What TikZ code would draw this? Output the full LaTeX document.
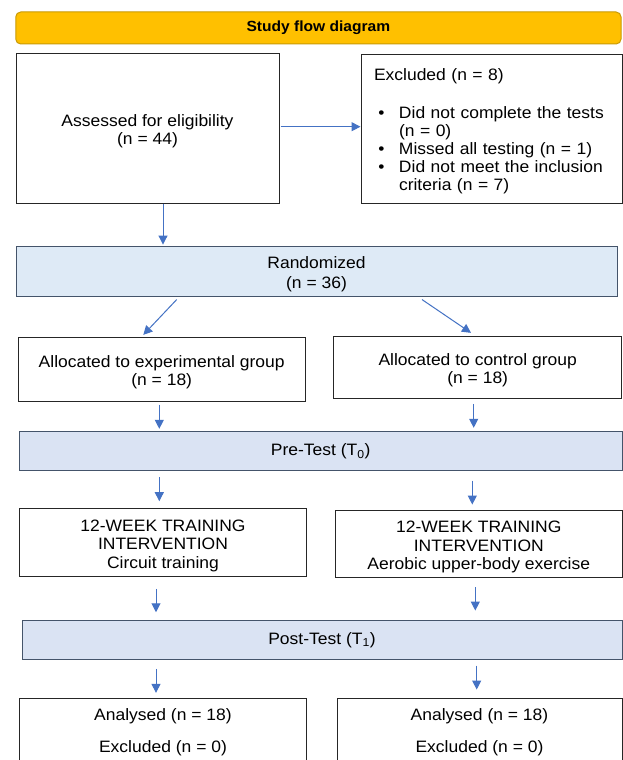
\documentclass[tikz,border=0pt]{standalone}
\usepackage{fontspec}
\setmainfont{Liberation Sans}[FakeStretch=1.06]
\usetikzlibrary{arrows.meta,calc}
\definecolor{titlefill}{HTML}{FFC000}
\definecolor{titledraw}{HTML}{C99A06}
\definecolor{randfill}{HTML}{DEEAF6}
\definecolor{testfill}{HTML}{DAE3F3}
\definecolor{bluedraw}{HTML}{44546A}
\definecolor{arrowblue}{HTML}{4472C4}
\newcommand{\tstrutA}{\rule{0pt}{18pt}}
\tikzset{
  box/.style={draw=black!85, line width=1pt, fill=white, inner sep=0pt, align=center,
    font=\fontsize{16.5}{18.5}\selectfont},
  bluebox/.style={box, draw=bluedraw},
  titlebox/.style={draw=titledraw, line width=1pt, fill=titlefill, rounded corners=5pt,
    inner sep=0pt, font=\fontsize{14.7}{16}\selectfont\bfseries},
  plaintext/.style={inner sep=0pt, align=center, font=\fontsize{16.5}{18.5}\selectfont},
  arr/.style={draw=arrowblue, line width=1pt, -{Triangle[length=9pt,width=9pt]}}
}
\begin{document}
\begin{tikzpicture}[x=1pt,y=-1pt]
\useasboundingbox (0,0) rectangle (623,760);
\clip (0,0) rectangle (623,760);
\fill[white] (0,0) rectangle (623,760);

\node[titlebox, minimum width=605.3pt, minimum height=32pt] (title) at (318.4,28) {Study flow diagram};

\node[box, minimum width=263pt, minimum height=150pt] (assess) at (147.5,128.3)
  {\tstrutA Assessed for eligibility\\(n = 44)};

\node[box, minimum width=261pt, minimum height=149pt, text width=235pt, align=left,
  font=\fontsize{16.5}{18}\selectfont] (excl) at (491.5,128.8)
  {\rule{0pt}{16.5pt}Excluded (n = 8)\\[19.7pt]
   \makebox[25pt][l]{\hspace{4.4pt}\textbullet}Did not complete the tests\\
   \hspace*{25pt}(n = 0)\\
   \makebox[25pt][l]{\hspace{4.4pt}\textbullet}Missed all testing (n = 1)\\
   \makebox[25pt][l]{\hspace{4.4pt}\textbullet}Did not meet the inclusion\\
   \hspace*{25pt}criteria (n = 7)};

\node[bluebox, fill=randfill, minimum width=601pt, minimum height=50.3pt] (rand) at (316.5,271.2)
  {\tstrutA Randomized\\[1.5pt](n = 36)};

\node[box, minimum width=286.7pt, minimum height=63.7pt] (alloc1) at (161.7,369.2)
  {\tstrutA Allocated to experimental group\\(n = 18)};
\node[box, minimum width=288pt, minimum height=62.3pt] (alloc2) at (477.7,367.2)
  {\tstrutA Allocated to control group\\(n = 18)};

\node[bluebox, fill=testfill, minimum width=602.7pt, minimum height=39pt] (pre) at (320.7,451.2)
  {Pre-Test (T\textsubscript{0})};

\node[box, minimum width=287.4pt, minimum height=68pt] (train1) at (163,542.7)
  {\tstrutA 12-WEEK TRAINING\\INTERVENTION\\Circuit training};
\node[box, minimum width=287pt, minimum height=67.7pt] (train2) at (478.8,543.9)
  {\tstrutA 12-WEEK TRAINING\\INTERVENTION\\Aerobic upper-body exercise};

\node[bluebox, fill=testfill, minimum width=600pt, minimum height=38.3pt] (post) at (322,639.9)
  {Post-Test (T\textsubscript{1})};

\node[box, minimum width=287.4pt, minimum height=101.7pt] (ana1) at (163,749.2) {};
\node[box, minimum width=285pt, minimum height=101.7pt] (ana2) at (479.5,749.2) {};
\node[plaintext] (ana1t) at (163,732) {Analysed (n = 18)\\[13.8pt]Excluded (n = 0)};
\node[plaintext] (ana2t) at (479.5,732) {Analysed (n = 18)\\[13.8pt]Excluded (n = 0)};

% connectors
\draw[arr] ($(assess.east)+(1,-1.6)$) -- ($(excl.west)+(0,-2.1)$);
\draw[arr] ($(assess.south)+(15.5,0)$) -- ($(rand.north)+(-153.5,-1)$);
\draw[arr] ($(rand.south)+(-139.8,2.7)$) -- ($(alloc1.north)+(-18.4,-2)$);
\draw[arr] ($(rand.south)+(105.5,2.7)$) -- ($(alloc2.north)+(-6.7,-2.7)$);
\draw[arr] ($(alloc1.south)+(-2.4,3)$) -- ($(pre.north)+(-161.4,-2.4)$);
\draw[arr] ($(alloc2.south)+(-4,5)$) -- ($(pre.north)+(153,-3.4)$);
\draw[arr] ($(pre.south)+(-161.4,6)$) -- ($(train1.north)+(-3.7,-7)$);
\draw[arr] ($(pre.south)+(151.6,9.3)$) -- ($(train2.north)+(-6.5,-5)$);
\draw[arr] ($(train1.south)+(-7,11.6)$) -- ($(post.north)+(-166,-8)$);
\draw[arr] ($(train2.south)+(-3.5,9)$) -- ($(post.north)+(153.3,-9.7)$);
\draw[arr] ($(post.south)+(-166,9.3)$) -- ($(ana1.north)+(-7,-5)$);
\draw[arr] ($(post.south)+(154.7,6)$) -- ($(ana2.north)+(-2.8,-8.3)$);
\end{tikzpicture}
\end{document}
